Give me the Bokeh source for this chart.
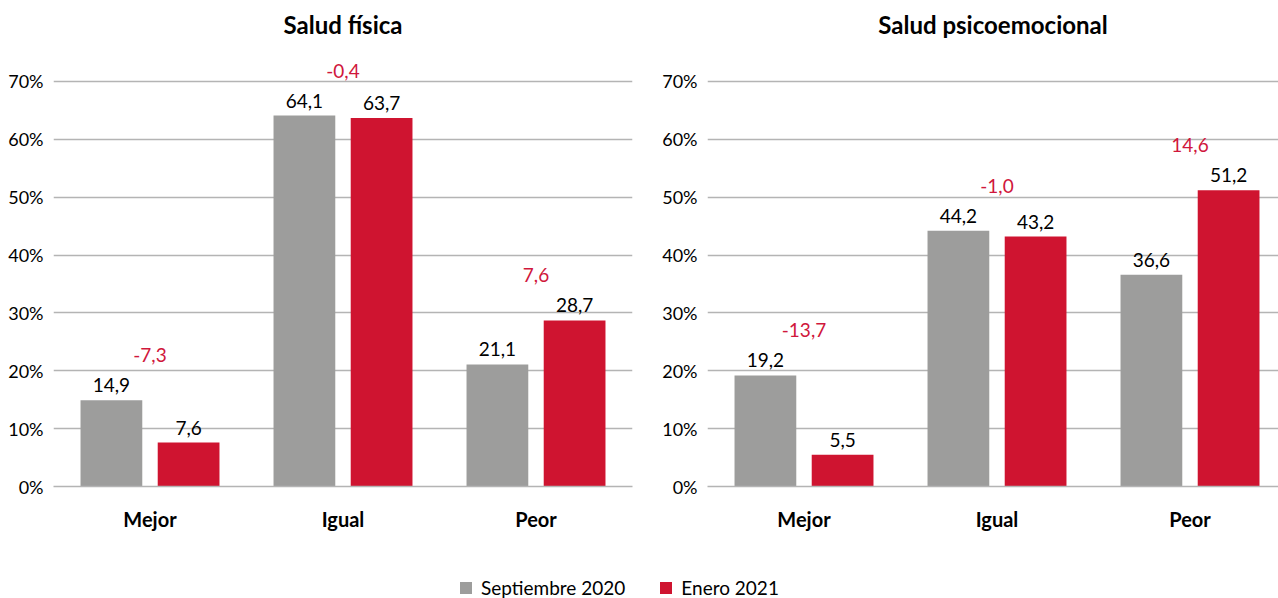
from bokeh.plotting import figure
from bokeh.models import ColumnDataSource, Range1d, FixedTicker, PrintfTickFormatter, Legend, LegendItem
from bokeh.layouts import column, row
from bokeh.transform import dodge
from bokeh.core.properties import value
from bokeh.embed import file_html
from bokeh.resources import INLINE

# ---------------- data ----------------
categories = ["Mejor", "Igual", "Peor"]
series_names = ["Septiembre 2020", "Enero 2021"]

fisica_sep = [14.9, 64.1, 21.1]
fisica_ene = [7.6, 63.7, 28.7]
fisica_dif = [-7.3, -0.4, 7.6]

psico_sep = [19.2, 44.2, 36.6]
psico_ene = [5.5, 43.2, 51.2]
psico_dif = [-13.7, -1.0, 14.6]

y_ticks = [0, 10, 20, 30, 40, 50, 60, 70]

# ---------------- style ----------------
FONT = "Lato"
GRAY = "#9d9d9c"
RED = "#cf1430"
DIFF_RED = "#d0173c"
GRID = "#b4b4b4"


def fmt(v):
    return f"{v:.1f}".replace(".", ",")


def panel(title, sep, ene, dif, width, border_left, border_right, px_per_cat):
    frame_w = width - border_left - border_right
    frame_h = 441
    px_per_unit = 5.8
    src = ColumnDataSource(dict(
        xc=[i + 0.5 for i in range(len(categories))],
        sep=sep, ene=ene,
        sep_lbl=[fmt(v) for v in sep],
        ene_lbl=[fmt(v) for v in ene],
        dif_lbl=[fmt(v) for v in dif],
        dif_y=[max(a, b) for a, b in zip(sep, ene)],
    ))
    p = figure(width=width, height=552, output_backend="svg", toolbar_location=None,
               x_range=Range1d(0, frame_w / px_per_cat),
               y_range=Range1d(0, frame_h / px_per_unit),
               min_border_left=border_left, min_border_right=border_right,
               min_border_top=45, min_border_bottom=66)
    p.outline_line_color = None
    p.background_fill_color = "white"
    p.border_fill_color = "white"

    p.title.text = title
    p.title.align = "center"
    p.title.text_font = FONT
    p.title.text_font_size = "24px"
    p.title.text_font_style = "bold"
    p.title.text_color = "black"
    p.title.standoff = 15

    p.vbar(x=dodge("xc", -0.2, range=p.x_range), top="sep", width=0.32, source=src,
           fill_color=GRAY, line_color=None)
    p.vbar(x=dodge("xc", 0.2, range=p.x_range), top="ene", width=0.32, source=src,
           fill_color=RED, line_color=None)

    common = dict(source=src, text_font=value(FONT), text_font_size="19px",
                  text_align="center", text_baseline="middle")
    p.text(x=dodge("xc", -0.2, range=p.x_range), y="sep", text="sep_lbl",
           y_offset=-15, text_color="black", **common)
    p.text(x=dodge("xc", 0.2, range=p.x_range), y="ene", text="ene_lbl",
           y_offset=-15, text_color="black", **common)
    p.text(x="xc", y="dif_y", text="dif_lbl", y_offset=-45, text_color=DIFF_RED, **common)

    # y axis
    p.yaxis.ticker = FixedTicker(ticks=y_ticks)
    p.yaxis.formatter = PrintfTickFormatter(format="%d%%")
    p.yaxis.axis_line_color = None
    p.yaxis.major_tick_line_color = None
    p.yaxis.minor_tick_line_color = None
    p.yaxis.major_tick_out = 0
    p.yaxis.major_tick_in = 0
    p.yaxis.major_label_standoff = 10
    p.yaxis.major_label_text_font = FONT
    p.yaxis.major_label_text_font_size = "18px"
    p.yaxis.major_label_text_color = "black"

    # x axis
    p.xaxis.ticker = FixedTicker(ticks=[i + 0.5 for i in range(len(categories))])
    p.xaxis.major_label_overrides = {i + 0.5: c for i, c in enumerate(categories)}
    p.xaxis.axis_line_color = GRID
    p.xaxis.axis_line_width = 1.5
    p.xaxis.major_tick_line_color = None
    p.xaxis.minor_tick_line_color = None
    p.xaxis.major_tick_out = 0
    p.xaxis.major_tick_in = 0
    p.xaxis.major_label_standoff = 20
    p.xaxis.major_label_text_font = FONT
    p.xaxis.major_label_text_font_size = "20px"
    p.xaxis.major_label_text_font_style = "bold"
    p.xaxis.major_label_text_color = "black"

    p.xgrid.grid_line_color = None
    p.ygrid.ticker = FixedTicker(ticks=y_ticks[1:])
    p.ygrid.grid_line_color = GRID
    p.ygrid.grid_line_width = 1.5
    return p


p1 = panel("Salud física", fisica_sep, fisica_ene, fisica_dif, 640, 53, 8, 193)
p2 = panel("Salud psicoemocional", psico_sep, psico_ene, psico_dif, 638, 67, 0, 193)

# legend figure
pl = figure(width=1278, height=46, output_backend="svg", toolbar_location=None,
            x_axis_type=None, y_axis_type=None, x_range=Range1d(0, 1), y_range=Range1d(0, 1),
            min_border=0)
pl.outline_line_color = None
pl.grid.grid_line_color = None
r_sep = pl.vbar(x=[0.5], top=[0], bottom=[0], width=0.01, fill_color=GRAY, line_color=None)
r_ene = pl.vbar(x=[0.5], top=[0], bottom=[0], width=0.01, fill_color=RED, line_color=None)
leg = Legend(items=[LegendItem(label=series_names[0], renderers=[r_sep]),
                    LegendItem(label=series_names[1], renderers=[r_ene])],
             orientation="horizontal", location=(458, -1),
             glyph_width=15, glyph_height=15, label_standoff=8, spacing=33,
             padding=0, margin=0, border_line_color=None, background_fill_alpha=0,
             label_text_font=FONT, label_text_font_size="19px", label_text_color="black")
pl.add_layout(leg, "center")

layout = column(row(p1, p2), pl)
open("out.html", "w").write(file_html(layout, INLINE))
